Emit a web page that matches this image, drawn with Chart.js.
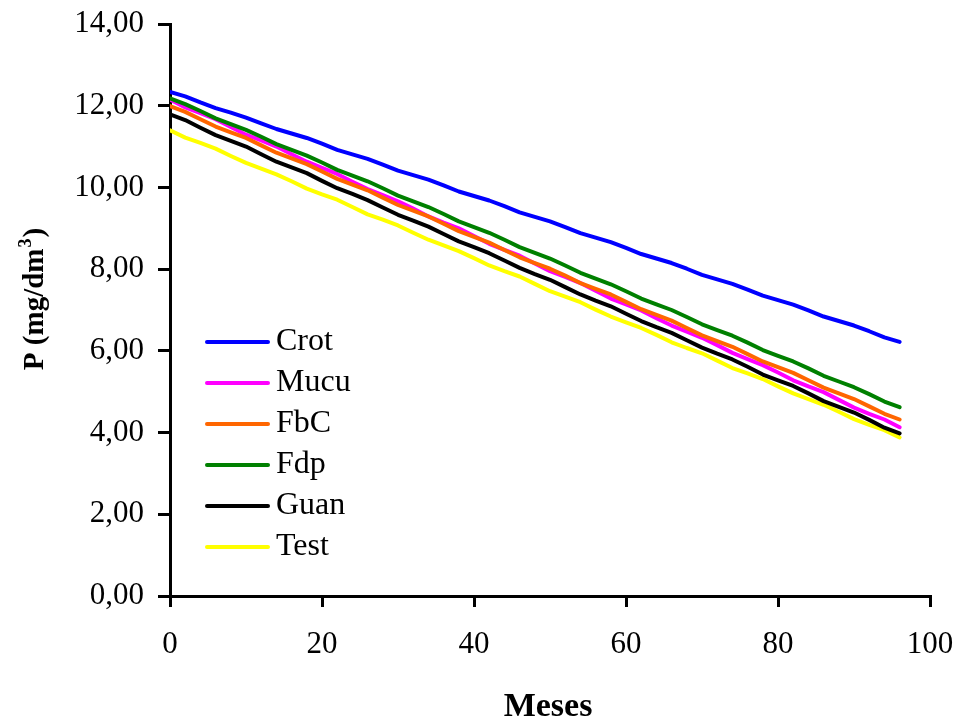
<!DOCTYPE html>
<html>
<head>
<meta charset="utf-8">
<script src="https://cdn.jsdelivr.net/npm/chart.js"></script>
<style>
  html, body { margin: 0; padding: 0; background: #ffffff; }
  #wrap { width: 956px; height: 720px; }
</style>
</head>
<body>
<div id="wrap"><canvas id="c" width="956" height="720"></canvas></div>
<script>
// ---- data ----
const months = [0,2,4,6,8,10,12,14,16,18,20,22,24,26,28,30,32,34,36,38,40,42,44,46,48,50,52,54,56,58,60,62,64,66,68,70,72,74,76,78,80,82,84,86,88,90,92,94,96];
const crot = [12.34,12.23,12.08,11.94,11.83,11.71,11.57,11.43,11.32,11.21,11.07,10.92,10.81,10.70,10.56,10.41,10.30,10.19,10.05,9.90,9.79,9.68,9.54,9.39,9.28,9.17,9.03,8.88,8.77,8.66,8.52,8.37,8.26,8.15,8.01,7.86,7.75,7.64,7.50,7.35,7.24,7.13,6.99,6.84,6.73,6.62,6.48,6.33,6.22];
const mucu = [12.15,11.96,11.82,11.67,11.48,11.29,11.15,11.00,10.81,10.63,10.48,10.33,10.14,9.96,9.81,9.66,9.48,9.29,9.14,9.00,8.81,8.62,8.47,8.33,8.14,7.95,7.81,7.66,7.47,7.28,7.14,6.99,6.80,6.62,6.47,6.32,6.14,5.95,5.80,5.65,5.47,5.28,5.13,4.99,4.80,4.61,4.46,4.32,4.13];
const fbc = [11.99,11.85,11.67,11.49,11.35,11.21,11.03,10.85,10.71,10.57,10.39,10.21,10.07,9.93,9.75,9.57,9.43,9.29,9.11,8.93,8.79,8.65,8.47,8.29,8.15,8.01,7.84,7.66,7.52,7.38,7.20,7.02,6.88,6.74,6.56,6.38,6.24,6.10,5.92,5.74,5.60,5.46,5.28,5.10,4.96,4.82,4.64,4.46,4.32];
const fdp = [12.18,12.04,11.87,11.69,11.55,11.41,11.24,11.06,10.92,10.78,10.61,10.43,10.29,10.15,9.98,9.80,9.66,9.52,9.35,9.17,9.03,8.89,8.72,8.54,8.40,8.26,8.09,7.91,7.77,7.63,7.46,7.28,7.14,7.00,6.83,6.65,6.51,6.37,6.20,6.02,5.88,5.74,5.57,5.39,5.25,5.11,4.94,4.76,4.62];
const guan = [11.79,11.65,11.46,11.28,11.14,11.00,10.81,10.63,10.49,10.35,10.16,9.98,9.84,9.69,9.51,9.33,9.19,9.04,8.86,8.68,8.54,8.39,8.21,8.03,7.88,7.74,7.56,7.38,7.23,7.09,6.91,6.73,6.58,6.44,6.26,6.08,5.93,5.79,5.61,5.42,5.28,5.14,4.96,4.77,4.63,4.49,4.31,4.12,3.98];
const test = [11.40,11.22,11.09,10.95,10.77,10.60,10.46,10.32,10.15,9.97,9.83,9.70,9.52,9.34,9.21,9.07,8.89,8.72,8.58,8.44,8.27,8.09,7.95,7.82,7.64,7.46,7.33,7.19,7.01,6.84,6.70,6.56,6.39,6.21,6.07,5.94,5.76,5.58,5.45,5.31,5.13,4.96,4.82,4.68,4.51,4.33,4.19,4.06,3.88];

const seriesLabels = ['Crot','Mucu','FbC','Fdp','Guan','Test'];
const seriesValues = [crot, mucu, fbc, fdp, guan, test];
const seriesColors = ['#0000FF','#FF00FF','#FF6600','#008000','#000000','#FFFF00'];
const drawOrder = [5, 2, 1, 0, 3, 4];

const xTicksMin = 0, xTicksMax = 100, xTickStep = 20;
const yTicksMin = 0, yTicksMax = 14, yTickStep = 2;
const xTitle = 'Meses';
const yTitleMain = 'P (mg/dm';
const yTitleSup = '3';
const yTitleEnd = ')';

const FONT = '"Liberation Serif", "Times New Roman", serif';

const datasets = seriesLabels.map((lab, i) => ({
  label: lab,
  data: months.map((m, j) => ({ x: m, y: seriesValues[i][j] })),
  borderColor: seriesColors[i],
  backgroundColor: seriesColors[i],
  borderWidth: 4,
  pointRadius: 0,
  pointHoverRadius: 0,
  tension: 0,
  fill: false,
  borderCapStyle: 'round',
  borderJoinStyle: 'round',
  order: drawOrder[i]
}));

const customText = {
  id: 'customText',
  afterDraw(chart) {
    const ctx = chart.ctx;
    const ca = chart.chartArea;
    ctx.save();
    ctx.fillStyle = '#000';

    // x axis title
    ctx.font = 'bold 34px ' + FONT;
    ctx.textAlign = 'center';
    ctx.textBaseline = 'alphabetic';
    ctx.fillText(xTitle, (ca.left + ca.right) / 2 - 2, 716);

    // y axis title with superscript
    ctx.save();
    ctx.translate(43, 300);
    ctx.rotate(-Math.PI / 2);
    const mainFont = 'bold 29px ' + FONT;
    const supFont = 'bold 18px ' + FONT;
    ctx.font = mainFont;
    const w1 = ctx.measureText(yTitleMain).width;
    const w3 = ctx.measureText(yTitleEnd).width;
    ctx.font = supFont;
    const w2 = ctx.measureText(yTitleSup).width;
    let x0 = -(w1 + w2 + w3) / 2;
    ctx.textAlign = 'left';
    ctx.font = mainFont;
    ctx.fillText(yTitleMain, x0, 0);
    ctx.font = supFont;
    ctx.fillText(yTitleSup, x0 + w1 + 1, -12);
    ctx.font = mainFont;
    ctx.fillText(yTitleEnd, x0 + w1 + w2 + 2, 0);
    ctx.restore();

    // legend
    const legX1 = 207, legX2 = 268, legTextX = 276, legY0 = 342, legDy = 41;
    ctx.font = '32px ' + FONT;
    ctx.textAlign = 'left';
    ctx.textBaseline = 'middle';
    chart.data.datasets.forEach((ds, i) => {
      const y = legY0 + i * legDy;
      ctx.strokeStyle = ds.borderColor;
      ctx.lineWidth = 4;
      ctx.lineCap = 'round';
      ctx.beginPath();
      ctx.moveTo(legX1, y);
      ctx.lineTo(legX2, y);
      ctx.stroke();
      ctx.fillStyle = '#000';
      ctx.fillText(ds.label, legTextX, y);
    });
    ctx.restore();
  }
};

new Chart(document.getElementById('c'), {
  type: 'line',
  data: { datasets },
  options: {
    responsive: false,
    animation: false,
    events: [],
    layout: { padding: { left: 0, top: 24, right: 26, bottom: 0 } },
    plugins: {
      legend: { display: false },
      tooltip: { enabled: false },
      title: { display: false }
    },
    scales: {
      x: {
        type: 'linear',
        min: xTicksMin,
        max: xTicksMax,
        ticks: {
          stepSize: xTickStep,
          color: '#000',
          font: { family: FONT, size: 31 },
          padding: 19,
          maxRotation: 0,
          autoSkip: false
        },
        grid: {
          display: true,
          drawOnChartArea: false,
          drawTicks: true,
          tickLength: 11,
          color: '#000',
          lineWidth: 3
        },
        border: { display: true, color: '#000', width: 3 },
        title: { display: false },
        afterFit(scale) {
          scale.height = 124;
          scale.paddingLeft = 0;
          scale.paddingRight = 0;
        }
      },
      y: {
        type: 'linear',
        min: yTicksMin,
        max: yTicksMax,
        ticks: {
          stepSize: yTickStep,
          color: '#000',
          font: { family: FONT, size: 31 },
          padding: 14,
          autoSkip: false,
          callback: (v) => Number(v).toFixed(2).replace('.', ',')
        },
        grid: {
          display: true,
          drawOnChartArea: false,
          drawTicks: true,
          tickLength: 12,
          color: '#000',
          lineWidth: 3
        },
        border: { display: true, color: '#000', width: 3 },
        title: { display: false },
        afterFit(scale) {
          scale.width = 170;
          scale.paddingTop = 0;
          scale.paddingBottom = 0;
        }
      }
    }
  },
  plugins: [customText]
});
</script>
</body>
</html>
